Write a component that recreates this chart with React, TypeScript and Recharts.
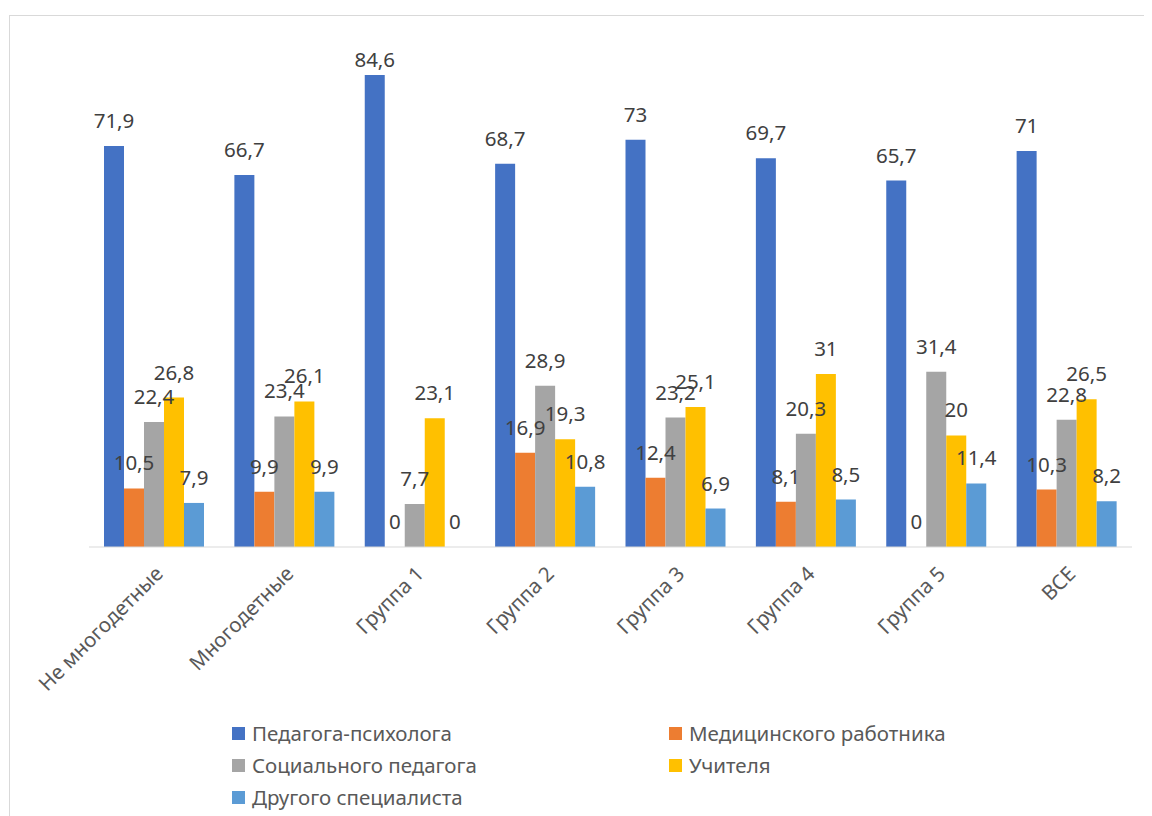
import React from "react";
import { Bar, BarChart, LabelList, XAxis, YAxis } from "recharts";

// категории и значения (%)
const categories = ["Не многодетные", "Многодетные", "Группа 1", "Группа 2", "Группа 3", "Группа 4", "Группа 5", "ВСЕ"];
const psych = [71.9, 66.7, 84.6, 68.7, 73, 69.7, 65.7, 71];
const medic = [10.5, 9.9, 0, 16.9, 12.4, 8.1, 0, 10.3];
const social = [22.4, 23.4, 7.7, 28.9, 23.2, 20.3, 31.4, 22.8];
const teacher = [26.8, 26.1, 23.1, 19.3, 25.1, 31, 20, 26.5];
const other = [7.9, 9.9, 0, 10.8, 6.9, 8.5, 11.4, 8.2];

const series = [
  { key: "psych", name: "Педагога-психолога", color: "#4472C4", values: psych },
  { key: "medic", name: "Медицинского работника", color: "#ED7D31", values: medic },
  { key: "social", name: "Социального педагога", color: "#A5A5A5", values: social },
  { key: "teacher", name: "Учителя", color: "#FFC000", values: teacher },
  { key: "other", name: "Другого специалиста", color: "#5B9BD5", values: other },
];

const data = categories.map((c, i) => {
  const row: Record<string, string | number> = { name: c };
  series.forEach((s) => (row[s.key] = s.values[i]));
  return row;
});

const FONT = "'Noto Sans', sans-serif";
const PLOT_TOP = 37;

function Tick({ x, y, payload }: any) {
  return (
    <g transform={`translate(${x + 5},${y + 23})`}>
      <text transform="rotate(-45)" textAnchor="end" dy="0.35em" fill="#595959" fontSize={20.5} fontFamily={FONT}>
        {payload.value}
      </text>
    </g>
  );
}

// подпись над столбцом, как в Excel — не выше области построения
function ValueLabel(props: any) {
  const { x, y, width, height, value } = props;
  if (value == null) return null;
  const top = Math.min(y, y + height);
  const base = Math.max(top - 18, PLOT_TOP + 22);
  return (
    <text x={x + width / 2} y={base} textAnchor="middle" fill="#404040" fontSize={20.5} fontFamily={FONT}>
      {String(value).replace(".", ",")}
    </text>
  );
}

// легенда в две колонки
const legendCols = [232, 669];
const legendRows = [733, 765, 797];

export default function App() {
  return (
    <div style={{ position: "relative", width: 1144, height: 808, overflow: "hidden", background: "#fff" }}>
      <div style={{ position: "absolute", left: 1, top: 7, width: 1300, height: 1000, border: "1px solid #d9d9d9" }} />
      <div style={{ position: "absolute", left: 0, top: 0 }}>
        <BarChart
          width={1144}
          height={808}
          data={data}
          margin={{ top: PLOT_TOP, right: 20, left: 81, bottom: 0 }}
          barCategoryGap={15}
          barGap={0}
        >
          <XAxis
            dataKey="name"
            height={269}
            interval={0}
            tickLine={false}
            tickSize={0}
            tickMargin={0}
            axisLine={{ stroke: "#d9d9d9" }}
            tick={<Tick />}
          />
          <YAxis hide domain={[0, 90]} />
          {series.map((s) => (
            <Bar key={s.key} dataKey={s.key} name={s.name} fill={s.color} minPointSize={0.01} isAnimationActive={false}>
              <LabelList dataKey={s.key} content={<ValueLabel />} />
            </Bar>
          ))}
        </BarChart>
      </div>
      {series.map((s, i) => {
        const left = legendCols[i % 2] - 8;
        const top = legendRows[Math.floor(i / 2)] - 8;
        return (
          <div
            key={s.key}
            style={{
              position: "absolute",
              left,
              top: top - 12,
              height: 24,
              display: "flex",
              alignItems: "center",
              fontFamily: FONT,
              fontSize: 20.5,
              color: "#595959",
              whiteSpace: "nowrap",
            }}
          >
            <span style={{ display: "inline-block", width: 13, height: 13, background: s.color, marginRight: 7 }} />
            {s.name}
          </div>
        );
      })}
    </div>
  );
}
